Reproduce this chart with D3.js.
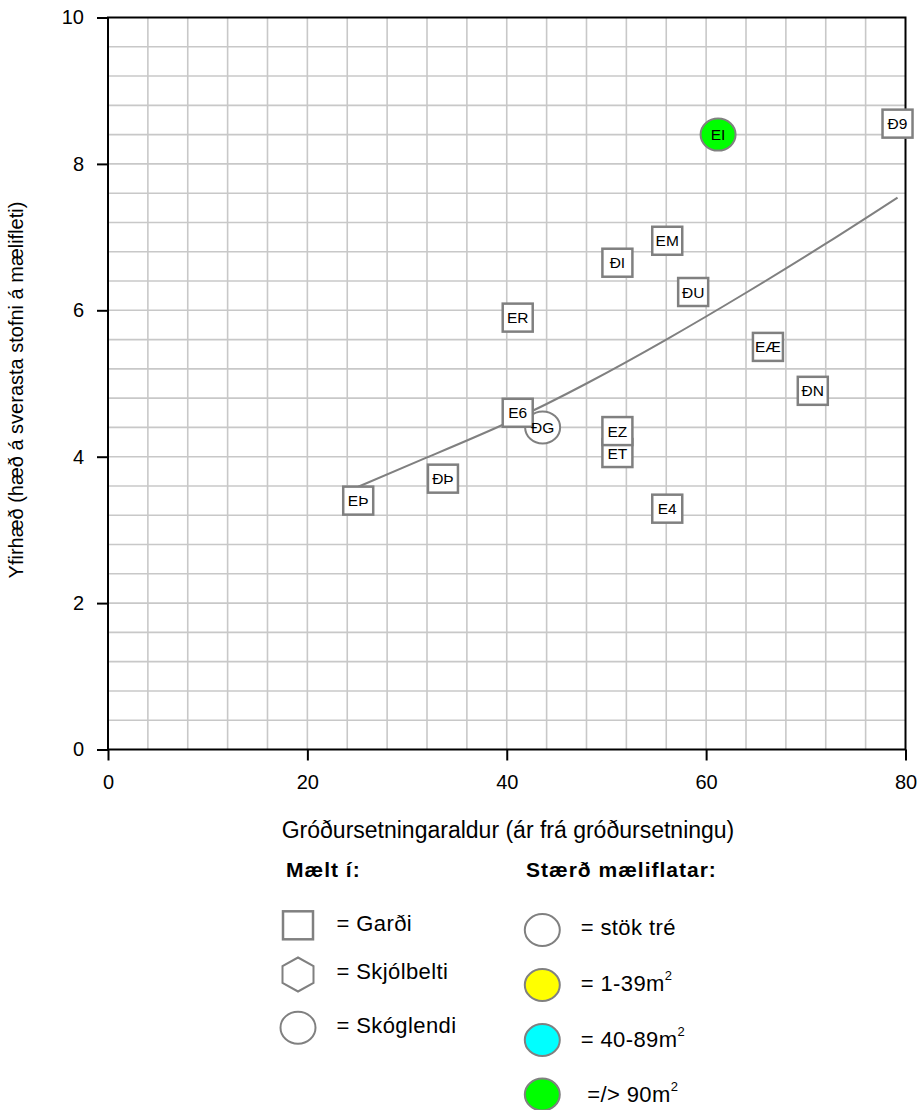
<!DOCTYPE html>
<html>
<head>
<meta charset="utf-8">
<script src="https://cdn.jsdelivr.net/npm/d3@7"></script>
<style>
  html, body { margin: 0; padding: 0; background: #fff; }
  svg { display: block; font-family: "Liberation Sans", Arial, sans-serif; }
</style>
</head>
<body>
<svg id="chart" width="921" height="1110"></svg>
<script>
// Plot codes (labels drawn inside each marker)
const plotCodes   = ["EÞ", "ÐÞ", "ÐG", "E6", "ER", "ET", "EZ", "E4", "ÐI", "EM", "ÐU", "EÆ", "ÐN", "EI", "Ð9"];
// Planting age (years since planting)
const plantingAge = [25.1, 33.6, 43.6, 41.1, 41.1, 51.1, 51.1, 56.1, 51.1, 56.1, 58.7, 66.2, 70.7, 61.2, 79.2];
// Top height (m)
const topHeight   = [3.40, 3.70, 4.40, 4.60, 5.90, 4.05, 4.35, 3.29, 6.65, 6.95, 6.25, 5.50, 4.90, 8.40, 8.55];
// Where the measurement was taken: garden / shelterbelt / woodland
const siteType    = ["gardur", "gardur", "skoglendi", "gardur", "gardur", "gardur", "gardur", "gardur", "gardur", "gardur", "gardur", "gardur", "gardur", "skoglendi", "gardur"];
// Plot size class
const plotSize    = ["stok", "stok", "stok", "stok", "stok", "stok", "stok", "stok", "stok", "stok", "stok", "stok", "stok", "90", "stok"];

// Trend line
const trendAge    = [25.1, 32.0, 40.0, 48.0, 56.0, 64.0, 72.0, 79.2];
const trendHeight = [3.59, 3.99, 4.46, 5.00, 5.60, 6.24, 6.91, 7.54];

// Axis ticks
const xTicks = [0, 20, 40, 60, 80];
const yTicks = [0, 2, 4, 6, 8, 10];
const xGridStep = 4;
const yGridStep = 0.4;

// Legend entries
const siteLegend = [
  { key: "gardur",    label: "= Garði" },
  { key: "skjolbelti", label: "= Skjólbelti" },
  { key: "skoglendi", label: "= Skóglendi" }
];
const sizeLegend = [
  { key: "stok", label: "= stök tré", sup: "" },
  { key: "1",    label: "= 1-39m",    sup: "2" },
  { key: "40",   label: "= 40-89m",   sup: "2" },
  { key: "90",   label: " =/> 90m",   sup: "2" }
];

const sizeFill = { stok: "#ffffff", "1": "#ffff00", "40": "#00ffff", "90": "#00ff00" };
const markStroke = "#808080";

const svg = d3.select("#chart");

const x = d3.scaleLinear().domain([0, 80]).range([108, 905.5]);
const y = d3.scaleLinear().domain([0, 10]).range([749.5, 17.5]);

// Grid
const grid = svg.append("g").attr("class", "grid");
const xGrid = d3.range(xGridStep, 80, xGridStep);
const yGrid = d3.range(1, 25).map(i => +(i * yGridStep).toFixed(1));
grid.selectAll("line.v").data(xGrid).join("line")
  .attr("class", "v")
  .attr("x1", d => x(d)).attr("x2", d => x(d))
  .attr("y1", y(0)).attr("y2", y(10))
  .attr("stroke", "#c8c8c8").attr("stroke-width", 1.6);
grid.selectAll("line.h").data(yGrid).join("line")
  .attr("class", "h")
  .attr("x1", x(0)).attr("x2", x(80))
  .attr("y1", d => y(d)).attr("y2", d => y(d))
  .attr("stroke", "#c8c8c8").attr("stroke-width", 1.6);

// Axes
const xAxis = svg.append("g")
  .attr("transform", `translate(0,${y(0)})`)
  .call(d3.axisBottom(x).tickValues(xTicks).tickSize(11).tickPadding(14).tickSizeOuter(0));
const yAxis = svg.append("g")
  .attr("transform", `translate(${x(0)},0)`)
  .call(d3.axisLeft(y).tickValues(yTicks).tickSize(11).tickPadding(13).tickSizeOuter(0));
[xAxis, yAxis].forEach(a => {
  a.select(".domain").remove();
  a.selectAll(".tick line").attr("stroke", "#000").attr("stroke-width", 2);
  a.selectAll(".tick text").attr("fill", "#000").attr("font-size", 20)
    .attr("font-family", "'Liberation Sans', Arial, sans-serif");
});

// Plot frame
svg.append("rect")
  .attr("x", x(0)).attr("y", y(10))
  .attr("width", x(80) - x(0)).attr("height", y(0) - y(10))
  .attr("fill", "none").attr("stroke", "#000").attr("stroke-width", 2);

// Trend curve
const trend = trendAge.map((a, i) => [a, trendHeight[i]]);
svg.append("path")
  .datum(trend)
  .attr("fill", "none")
  .attr("stroke", "#808080")
  .attr("stroke-width", 2)
  .attr("d", d3.line().x(d => x(d[0])).y(d => y(d[1])).curve(d3.curveNatural));

// Markers
const points = plotCodes.map((c, i) => ({
  code: c, age: plantingAge[i], h: topHeight[i], site: siteType[i], size: plotSize[i]
}));

const boxW = 30, boxH = 28, rx = 17.5, ry = 16;
function hexPoints(cx, cy) {
  const hw = 15.5, hh = 17, q = 8.5;
  return [[cx, cy - hh], [cx + hw, cy - q], [cx + hw, cy + q], [cx, cy + hh], [cx - hw, cy + q], [cx - hw, cy - q]]
    .map(p => p.join(",")).join(" ");
}
function drawShape(g, site, cx, cy, fill) {
  if (site === "gardur") {
    g.append("rect").attr("x", cx - boxW / 2).attr("y", cy - boxH / 2)
      .attr("width", boxW).attr("height", boxH)
      .attr("fill", fill).attr("stroke", markStroke).attr("stroke-width", 2.5);
  } else if (site === "skjolbelti") {
    g.append("polygon").attr("points", hexPoints(cx, cy))
      .attr("fill", fill).attr("stroke", markStroke).attr("stroke-width", 2);
  } else {
    g.append("ellipse").attr("cx", cx).attr("cy", cy).attr("rx", rx).attr("ry", ry)
      .attr("fill", fill).attr("stroke", markStroke).attr("stroke-width", 2);
  }
}

const shapes = svg.append("g");
// woodland circles first, boxes on top
points.filter(p => p.site !== "gardur").concat(points.filter(p => p.site === "gardur"))
  .forEach(p => drawShape(shapes, p.site, x(p.age), y(p.h), sizeFill[p.size]));

svg.append("g").selectAll("text").data(points).join("text")
  .attr("x", d => x(d.age)).attr("y", d => y(d.h))
  .attr("dy", "0.36em")
  .attr("text-anchor", "middle")
  .attr("font-size", 15.5)
  .attr("fill", "#000")
  .text(d => d.code);

// Axis titles
svg.append("text")
  .attr("x", 508).attr("y", 838)
  .attr("text-anchor", "middle")
  .attr("font-size", 23)
  .text("Gróðursetningaraldur (ár frá gróðursetningu)");
svg.append("text")
  .attr("transform", "translate(23,390) rotate(-90)")
  .attr("text-anchor", "middle")
  .attr("font-size", 20)
  .text("Yfirhæð (hæð á sverasta stofni á mælifleti)");

// Legend: measurement site
const leg = svg.append("g");
leg.append("text").attr("x", 286).attr("y", 877)
  .attr("font-size", 21).attr("font-weight", "bold").attr("letter-spacing", 1)
  .text("Mælt í:");
const siteY = [925.3, 974.5, 1027.7];
const siteTextY = [931, 979, 1033];
siteLegend.forEach((d, i) => {
  drawShape(leg, d.key, 298, siteY[i], "#ffffff");
  leg.append("text").attr("x", 336.5).attr("y", siteTextY[i])
    .attr("font-size", 22).attr("letter-spacing", 0.4).text(d.label);
});

// Legend: plot size
leg.append("text").attr("x", 526).attr("y", 877)
  .attr("font-size", 21).attr("font-weight", "bold").attr("letter-spacing", 1)
  .text("Stærð mæliflatar:");
const sizeY = [930, 985, 1040, 1094.5];
const sizeTextY = [935, 990.5, 1047, 1101.5];
sizeLegend.forEach((d, i) => {
  leg.append("ellipse").attr("cx", 542.3).attr("cy", sizeY[i]).attr("rx", rx).attr("ry", ry)
    .attr("fill", sizeFill[d.key]).attr("stroke", markStroke).attr("stroke-width", 2);
  const t = leg.append("text").attr("x", 580.7).attr("y", sizeTextY[i])
    .attr("font-size", 22).attr("letter-spacing", 0.4).attr("xml:space", "preserve")
    .style("white-space", "pre");
  t.append("tspan").text(d.label);
  if (d.sup) t.append("tspan").attr("font-size", 13).attr("dy", -11).text(d.sup);
});
</script>
</body>
</html>
